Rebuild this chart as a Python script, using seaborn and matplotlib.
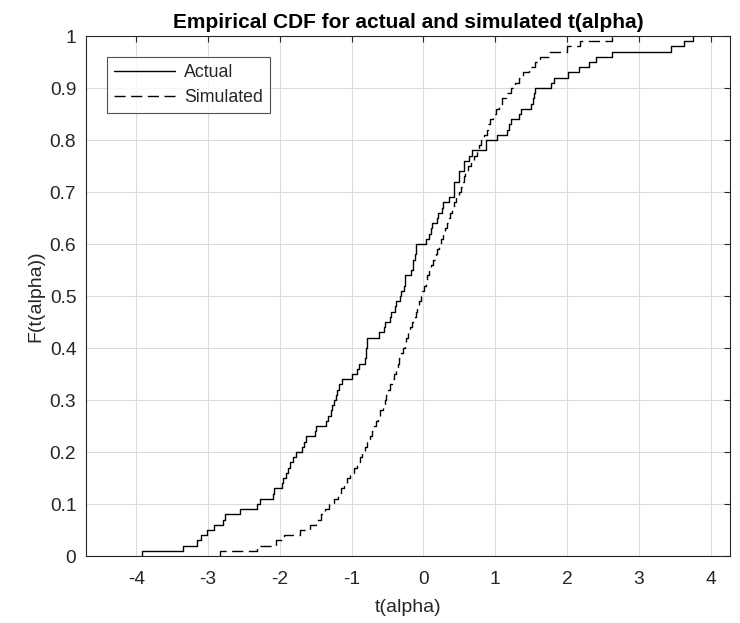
import numpy as np
import pandas as pd
import matplotlib
matplotlib.use("Agg")
import matplotlib.pyplot as plt
import seaborn as sns
from matplotlib.ticker import FuncFormatter

# sorted sample values (100 each)
actual = [-3.92, -3.35, -3.15, -3.10, -3.01, -2.92, -2.79, -2.77, -2.55, -2.32,
          -2.27, -2.09, -2.08, -1.97, -1.95, -1.92, -1.88, -1.86, -1.81, -1.78,
          -1.69, -1.66, -1.64, -1.51, -1.50, -1.36, -1.33, -1.29, -1.27, -1.25,
          -1.22, -1.20, -1.18, -1.13, -1.00, -0.92, -0.90, -0.81, -0.80, -0.80,
          -0.79, -0.78, -0.62, -0.55, -0.53, -0.46, -0.45, -0.40, -0.38, -0.33,
          -0.31, -0.27, -0.26, -0.25, -0.18, -0.15, -0.14, -0.12, -0.11, -0.10,
          0.03, 0.08, 0.10, 0.125, 0.19, 0.20, 0.26, 0.27, 0.36, 0.42,
          0.43, 0.43, 0.49, 0.50, 0.56, 0.57, 0.64, 0.68, 0.87, 0.87,
          1.02, 1.17, 1.19, 1.22, 1.33, 1.36, 1.50, 1.52, 1.54, 1.56,
          1.77, 1.82, 2.01, 2.17, 2.31, 2.40, 2.63, 3.45, 3.63, 3.75]

simulated = [-2.83, -2.32, -2.06, -1.94, -1.72, -1.58, -1.50, -1.43, -1.37, -1.32,
             -1.25, -1.19, -1.15, -1.11, -1.07, -1.02, -0.97, -0.93, -0.88, -0.85,
             -0.82, -0.79, -0.75, -0.72, -0.69, -0.66, -0.63, -0.60, -0.57, -0.54,
             -0.52, -0.49, -0.47, -0.44, -0.41, -0.38, -0.36, -0.34, -0.31, -0.29,
             -0.26, -0.24, -0.21, -0.19, -0.16, -0.13, -0.11, -0.09, -0.06, -0.04,
             -0.02, 0.01, 0.03, 0.05, 0.08, 0.11, 0.14, 0.17, 0.19, 0.21,
             0.24, 0.27, 0.30, 0.33, 0.35, 0.37, 0.40, 0.43, 0.46, 0.49,
             0.52, 0.54, 0.56, 0.58, 0.62, 0.66, 0.71, 0.74, 0.78, 0.80,
             0.85, 0.88, 0.90, 0.93, 0.97, 1.01, 1.05, 1.10, 1.15, 1.22,
             1.28, 1.33, 1.39, 1.47, 1.55, 1.62, 1.75, 2.00, 2.18, 2.62]

x_ticks = [-4, -3, -2, -1, 0, 1, 2, 3, 4]
y_ticks = [0, 0.1, 0.2, 0.3, 0.4, 0.5, 0.6, 0.7, 0.8, 0.9, 1.0]

sns.set_style("white")
plt.rcParams['font.family'] = ['Liberation Sans', 'DejaVu Sans']

fig = plt.figure(figsize=(7.4, 6.23), dpi=100)
ax = fig.add_axes([0.1162, 0.1075, 0.8703, 0.8347])

sns.ecdfplot(x=actual, ax=ax, color='black', lw=1.0, label='Actual')
sns.ecdfplot(x=simulated, ax=ax, color='black', lw=1.0, linestyle=(0, (8, 4)),
             label='Simulated')

ax.set_xlim(-4.7, 4.27)
ax.set_ylim(0, 1)
ax.set_xticks(x_ticks)
ax.set_yticks(y_ticks)
ax.yaxis.set_major_formatter(FuncFormatter(lambda v, p: f"{v:g}"))
ax.xaxis.set_major_formatter(FuncFormatter(lambda v, p: f"{v:g}"))

ax.grid(True, color='#dcdcdc', lw=0.8)
ax.set_axisbelow(True)
for s in ax.spines.values():
    s.set_color('#262626')
    s.set_linewidth(0.8)
ax.tick_params(direction='in', length=4.5, width=0.8, color='#262626',
               top=True, right=True, labelsize=13.8, labelcolor='#262626')
ax.tick_params(axis='x', pad=11)
ax.tick_params(axis='y', pad=7)

ax.set_xlabel('t(alpha)', fontsize=14, color='#262626', labelpad=8)
ax.set_ylabel('F(t(alpha))', fontsize=14, color='#262626', labelpad=4)
ax.set_title('Empirical CDF for actual and simulated t(alpha)', fontsize=15,
             fontweight='bold', color='black', pad=6)

leg = ax.legend(loc='upper left', bbox_to_anchor=(0.0326, 0.9596), fontsize=12.8,
                frameon=True, fancybox=False, handlelength=3.4, borderpad=0.4,
                labelspacing=0.45, handletextpad=0.55, borderaxespad=0)
leg.get_frame().set_edgecolor('#262626')
leg.get_frame().set_linewidth(0.8)

fig.savefig('out.png', dpi=100)
